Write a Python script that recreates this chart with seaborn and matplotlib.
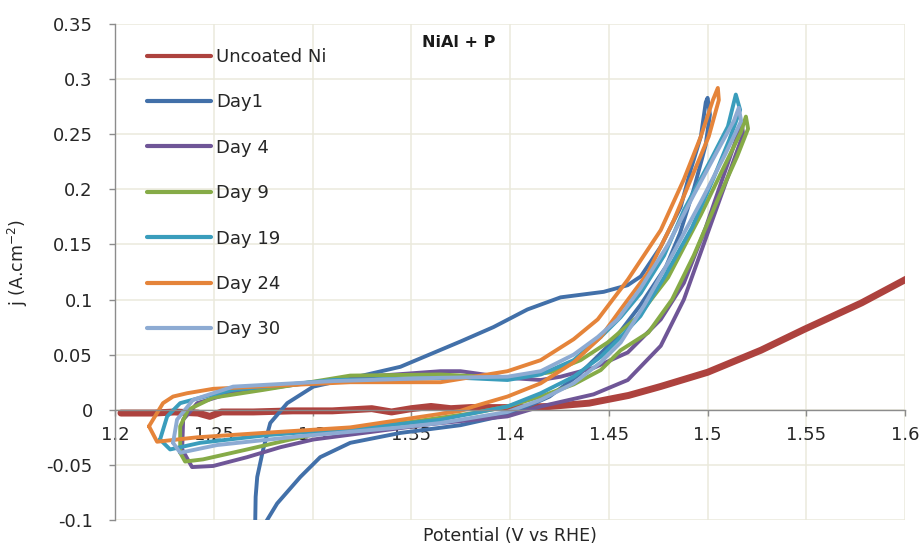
import numpy as np
import pandas as pd
import matplotlib
matplotlib.use("Agg")
import matplotlib.pyplot as plt
from matplotlib.lines import Line2D
import seaborn as sns

# ---- data: cyclic voltammograms, potential (V vs RHE) and current density (A/cm2) ----
ni_v = [1.2030, 1.2200, 1.2300, 1.2420, 1.2480, 1.2540, 1.2700, 1.2900, 1.3100, 1.3300,
        1.3400, 1.3500, 1.3600, 1.3700, 1.3800, 1.4000, 1.4200, 1.4400, 1.4600, 1.4760,
        1.5000, 1.5270, 1.5490, 1.5780, 1.6000, 1.6100]
ni_j = [-0.003, -0.003, -0.002, -0.003, -0.006, -0.002, -0.002, -0.001, -0.001, 0.001,
        -0.002, 0.001, 0.003, 0.001, 0.002, 0.002, 0.003, 0.006, 0.013, 0.021,
        0.034, 0.054, 0.073, 0.097, 0.118, 0.127]

day1_v = [1.2710, 1.2712, 1.2720, 1.2750, 1.2786, 1.2872, 1.3004, 1.3156, 1.3445, 1.3750,
          1.3916, 1.4088, 1.4256, 1.4474, 1.4595, 1.4662, 1.4763, 1.4864, 1.4915, 1.4966,
          1.4991, 1.5000, 1.5012, 1.4990, 1.4930, 1.4860, 1.4790, 1.4660, 1.4520, 1.4350,
          1.4200, 1.4000, 1.3749, 1.3445, 1.3191, 1.3039, 1.2938, 1.2821, 1.2760, 1.2745,
          1.2712]
day1_j = [-0.100, -0.079, -0.061, -0.036, -0.012, 0.006, 0.021, 0.027, 0.039, 0.062,
          0.075, 0.091, 0.102, 0.107, 0.113, 0.121, 0.148, 0.184, 0.218, 0.248,
          0.279, 0.283, 0.268, 0.240, 0.200, 0.160, 0.130, 0.095, 0.062, 0.032,
          0.012, -0.004, -0.014, -0.021, -0.030, -0.043, -0.061, -0.085, -0.103, -0.106,
          -0.104]

day4_v = [1.2340, 1.2345, 1.2416, 1.2583, 1.2837, 1.3191, 1.3648, 1.3749, 1.3987, 1.4155,
          1.4256, 1.4423, 1.4596, 1.4763, 1.4880, 1.4990, 1.5080, 1.5150, 1.5175, 1.5180,
          1.5110, 1.5030, 1.4950, 1.4880, 1.4763, 1.4596, 1.4423, 1.4155, 1.3987, 1.3600,
          1.3004, 1.2837, 1.2669, 1.2497, 1.2390, 1.2340]
day4_j = [-0.036, -0.009, 0.006, 0.015, 0.021, 0.029, 0.035, 0.035, 0.029, 0.027,
          0.030, 0.038, 0.052, 0.082, 0.115, 0.165, 0.212, 0.248, 0.258, 0.250,
          0.215, 0.175, 0.135, 0.100, 0.058, 0.027, 0.014, 0.003, -0.006, -0.013,
          -0.027, -0.034, -0.043, -0.051, -0.052, -0.036]

day9_v = [1.2330, 1.2330, 1.2370, 1.2497, 1.2750, 1.3191, 1.3648, 1.3987, 1.4205, 1.4357,
          1.4494, 1.4650, 1.4800, 1.4966, 1.5082, 1.5169, 1.5194, 1.5205, 1.5150, 1.5050,
          1.4930, 1.4820, 1.4700, 1.4560, 1.4459, 1.4322, 1.4155, 1.3987, 1.3815, 1.3500,
          1.3100, 1.2887, 1.2669, 1.2446, 1.2355, 1.2330]
day9_j = [-0.039, -0.015, 0.000, 0.011, 0.018, 0.031, 0.032, 0.029, 0.034, 0.045,
          0.061, 0.085, 0.120, 0.177, 0.220, 0.252, 0.266, 0.255, 0.230, 0.190,
          0.140, 0.100, 0.070, 0.054, 0.036, 0.023, 0.012, 0.003, -0.003, -0.011,
          -0.019, -0.027, -0.036, -0.045, -0.047, -0.039]

day19_v = [1.2228, 1.2264, 1.2330, 1.2497, 1.2598, 1.3105, 1.3749, 1.3987, 1.4155, 1.4322,
           1.4459, 1.4560, 1.4662, 1.4780, 1.4880, 1.5017, 1.5103, 1.5143, 1.5165, 1.5110,
           1.5030, 1.4920, 1.4780, 1.4660, 1.4560, 1.4459, 1.4322, 1.4155, 1.3987, 1.3648,
           1.3278, 1.2770, 1.2431, 1.2279, 1.2228]
day19_j = [-0.027, -0.006, 0.006, 0.014, 0.018, 0.027, 0.029, 0.027, 0.032, 0.045,
           0.066, 0.084, 0.106, 0.140, 0.181, 0.227, 0.257, 0.286, 0.272, 0.245,
           0.210, 0.165, 0.120, 0.085, 0.066, 0.048, 0.030, 0.015, 0.003, -0.009,
           -0.016, -0.023, -0.030, -0.036, -0.027]

day24_v = [1.2172, 1.2243, 1.2294, 1.2365, 1.2497, 1.2837, 1.3191, 1.3648, 1.3987, 1.4155,
           1.4322, 1.4444, 1.4596, 1.4763, 1.4880, 1.4966, 1.5027, 1.5052, 1.5057, 1.5006,
           1.4915, 1.4829, 1.4697, 1.4560, 1.4459, 1.4322, 1.4155, 1.3987, 1.3815, 1.3749,
           1.3191, 1.2750, 1.2416, 1.2213, 1.2172]
day24_j = [-0.015, 0.006, 0.012, 0.015, 0.019, 0.022, 0.025, 0.025, 0.035, 0.045,
           0.064, 0.082, 0.118, 0.163, 0.209, 0.248, 0.281, 0.292, 0.281, 0.248,
           0.209, 0.172, 0.124, 0.091, 0.066, 0.043, 0.024, 0.012, 0.003, -0.001,
           -0.016, -0.021, -0.025, -0.029, -0.015]

day30_v = [1.2294, 1.2314, 1.2395, 1.2598, 1.3105, 1.3648, 1.3987, 1.4155, 1.4322, 1.4444,
           1.4545, 1.4660, 1.4800, 1.4930, 1.5050, 1.5133, 1.5158, 1.5170, 1.5090, 1.4970,
           1.4820, 1.4680, 1.4560, 1.4459, 1.4322, 1.4155, 1.3987, 1.3648, 1.3445, 1.2938,
           1.2517, 1.2330, 1.2294]
day30_j = [-0.030, -0.009, 0.009, 0.021, 0.026, 0.029, 0.030, 0.035, 0.050, 0.066,
           0.082, 0.110, 0.150, 0.195, 0.235, 0.262, 0.274, 0.262, 0.232, 0.190,
           0.140, 0.095, 0.061, 0.043, 0.024, 0.009, -0.002, -0.012, -0.016, -0.024,
           -0.032, -0.039, -0.030]

series_names = ["Uncoated Ni", "Day1", "Day 4", "Day 9", "Day 19", "Day 24", "Day 30"]
series_colors = ["#AD423E", "#4270A9", "#6F5697", "#86AB47", "#3A9DBC", "#E5843A", "#8DABD3"]

x_ticks = [1.2, 1.25, 1.3, 1.35, 1.4, 1.45, 1.5, 1.55, 1.6]
x_ticklabels = ["1.2", "1.25", "1.3", "1.35", "1.4", "1.45", "1.5", "1.55", "1.6"]
y_ticks = [-0.1, -0.05, 0.0, 0.05, 0.1, 0.15, 0.2, 0.25, 0.3, 0.35]
y_ticklabels = ["-0.1", "-0.05", "0", "0.05", "0.1", "0.15", "0.2", "0.25", "0.3", "0.35"]

# ---- long-form table for the coated samples ----
days = [
    ("Day1", day1_v, day1_j),
    ("Day 4", day4_v, day4_j),
    ("Day 9", day9_v, day9_j),
    ("Day 19", day19_v, day19_j),
    ("Day 24", day24_v, day24_j),
    ("Day 30", day30_v, day30_j),
]
frames = [pd.DataFrame({"series": name, "V": v, "j": j}) for name, v, j in days]
days_df = pd.concat(frames, ignore_index=True)
ni_df = pd.DataFrame({"series": "Uncoated Ni", "V": ni_v, "j": ni_j})

sns.set_style("white")
plt.rcParams["font.family"] = ["DejaVu Sans"]

fig = plt.figure(figsize=(9.23, 5.47), dpi=100)
ax = fig.add_axes([0.1246, 0.0494, 0.8560, 0.9067])

sns.lineplot(data=ni_df, x="V", y="j", sort=False, estimator=None,
             color=series_colors[0], linewidth=5.0, ax=ax, legend=False,
             solid_capstyle="round", solid_joinstyle="round")
sns.lineplot(data=days_df, x="V", y="j", hue="series", hue_order=series_names[1:],
             palette=series_colors[1:], sort=False, estimator=None, linewidth=2.8,
             ax=ax, legend=False, solid_capstyle="round", solid_joinstyle="round")

ax.set_xlim(1.2, 1.6)
ax.set_ylim(-0.1, 0.35)
ax.set_xticks(x_ticks)
ax.set_xticklabels(x_ticklabels)
ax.set_yticks(y_ticks)
ax.set_yticklabels(y_ticklabels)

ax.set_axisbelow(True)
ax.grid(True, color="#ebe9dc", linewidth=1.1)

for side in ("top", "right"):
    ax.spines[side].set_visible(False)
ax.spines["bottom"].set_position(("data", 0))
ax.spines["bottom"].set_color("#8c8c8c")
ax.spines["left"].set_color("#8c8c8c")
ax.spines["bottom"].set_linewidth(1.0)
ax.spines["left"].set_linewidth(1.0)

ax.tick_params(axis="x", direction="out", length=4, width=1, color="#8c8c8c",
               pad=8, labelsize=13, labelcolor="#262626", bottom=True)
ax.tick_params(axis="y", direction="out", length=4, width=1, color="#8c8c8c",
               pad=12, labelsize=13, labelcolor="#262626", left=True)

ax.set_xlabel("Potential (V vs RHE)", fontsize=12.5, color="#262626")
ax.xaxis.set_label_coords(0.5, -0.014)
ax.set_ylabel(r"j (A.cm$^{-2}$)", fontsize=12.5, color="#262626")
ax.yaxis.set_label_coords(-0.108, 0.52)

ax.text(1.374, 0.333, "NiAl + P", fontsize=11.5, fontweight="bold",
        color="#1a1a1a", ha="center", va="center")

handles = [Line2D([0], [0], color=c, linewidth=3.0, solid_capstyle="round")
           for c in series_colors]
ax.legend(handles, series_names, loc="upper left", bbox_to_anchor=(0.041, 0.952),
          frameon=False, fontsize=13, handlelength=3.5, handletextpad=0.3,
          labelspacing=1.52, borderpad=0, borderaxespad=0, labelcolor="#262626")

fig.savefig("out.png", dpi=100)
